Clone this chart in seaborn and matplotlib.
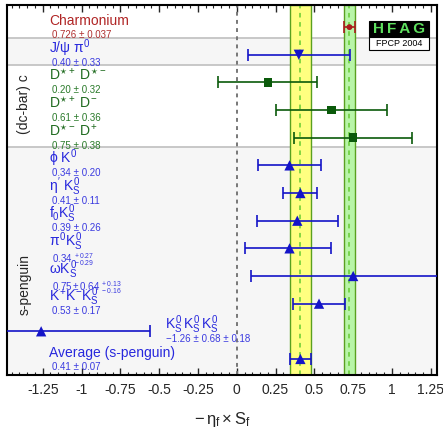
import matplotlib
matplotlib.use("Agg")
import matplotlib.pyplot as plt
import seaborn as sns
import pandas as pd
import numpy as np
from matplotlib.ticker import MultipleLocator
from matplotlib.patches import Rectangle

# ---------------- data ----------------
names = [r"Charmonium", r"$J/\psi\ \pi^0$", r"$D^{\star+}\ D^{\star-}$", r"$D^{\star+}\ D^{-}$",
         r"$D^{\star-}\ D^{+}$", r"$\phi\ K^0$", r"$\eta^{\prime}\ K^0_S$", r"$f_0 K^0_S$",
         r"$\pi^0 K^0_S$", r"$\omega K^0_S$", r"$K^{+}K^{-}K^0_S$", r"$K^0_S\,K^0_S\,K^0_S$",
         r"Average (s-penguin)"]
value_text = ["0.726 ± 0.037", "0.40 ± 0.33", "0.20 ± 0.32", "0.61 ± 0.36", "0.75 ± 0.38",
              "0.34 ± 0.20", "0.41 ± 0.11", "0.39 ± 0.26", r"$0.34^{\ +0.27}_{\ -0.29}$",
              r"$0.75 \pm 0.64^{\ +0.13}_{\ -0.16}$", "0.53 ± 0.17", "−1.26 ± 0.68 ± 0.18",
              "0.41 ± 0.07"]
kinds = ["charmonium", "jpsi", "dd", "dd", "dd", "peng", "peng", "peng", "peng", "peng",
         "peng", "peng", "peng"]
values = [0.726, 0.40, 0.20, 0.61, 0.75, 0.34, 0.41, 0.39, 0.34, 0.75, 0.53, -1.26, 0.41]
err_lo = [0.037, 0.33, 0.32, 0.36, 0.38, 0.20, 0.11, 0.26, 0.29, 0.66, 0.17, 0.70, 0.07]
err_hi = [0.037, 0.33, 0.32, 0.36, 0.38, 0.20, 0.11, 0.26, 0.27, 0.66, 0.17, 0.70, 0.07]
avg_peng, avg_peng_err = 0.41, 0.07
charm, charm_err = 0.726, 0.037
xticks = [-1.25, -1, -0.75, -0.5, -0.25, 0, 0.25, 0.5, 0.75, 1, 1.25]
xtick_labels = ["-1.25", "-1", "-0.75", "-0.5", "-0.25", "0", "0.25", "0.5", "0.75", "1", "1.25"]

rows = list(range(len(names)))
df = pd.DataFrame({"name": names, "value": values, "lo": err_lo, "hi": err_hi,
                   "kind": kinds, "row": rows})

# ---------------- style ----------------
sns.set_style("white")
plt.rcParams["font.family"] = ["Liberation Sans", "DejaVu Sans"]
plt.rcParams["mathtext.fontset"] = "custom"
plt.rcParams["mathtext.rm"] = "Liberation Sans"
plt.rcParams["mathtext.it"] = "Liberation Sans"
plt.rcParams["mathtext.bf"] = "Liberation Sans:bold"
plt.rcParams["mathtext.sf"] = "Liberation Sans"
plt.rcParams["axes.unicode_minus"] = False

colors = {"charmonium": "#aa1c1c", "jpsi": "#1414c8", "dd": "#0b5a0b", "peng": "#1414c8"}
name_colors = {"charmonium": "#b02525", "jpsi": "#2828dd", "dd": "#1f6b1f", "peng": "#2828dd"}
val_colors = {"charmonium": "#b03030", "jpsi": "#3a3ae0", "dd": "#2a7a2a", "peng": "#3a3ae0"}
markers = {"charmonium": "o", "jpsi": "v", "dd": "s", "peng": "^"}
sizes = {"charmonium": 18, "jpsi": 55, "dd": 38, "peng": 55}

fig = plt.figure(figsize=(4.43, 4.30), dpi=100)
ax = fig.add_axes([7 / 443, 1 - 375 / 430, 430 / 443, 370 / 430])

xmin, xmax = -1.48, 1.29
ax.set_xlim(xmin, xmax)
ax.set_ylim(12.58, -0.8)

# background bands for groups
ax.axhspan(0.38, 1.38, color="#f6f6f6", zorder=0, lw=0)
ax.axhspan(4.35, 12.58, color="#f6f6f6", zorder=0, lw=0)
for yy in [0.38, 1.38, 4.35]:
    ax.axhline(yy, color="#c4c4c4", lw=1.3, zorder=0.5)

# average bands
ax.axvspan(avg_peng - avg_peng_err, avg_peng + avg_peng_err, facecolor="#ffff80",
           edgecolor="#5aa020", lw=1.0, zorder=1)
ax.axvspan(charm - charm_err, charm + charm_err, facecolor="#b8f5a8",
           edgecolor="#5aa020", lw=1.0, zorder=1)
ax.axvline(avg_peng, color="#66cc33", lw=1.1, ls=(0, (3, 3)), zorder=1.5)
ax.axvline(charm, color="#66cc33", lw=1.1, ls=(0, (3, 3)), zorder=1.5)
ax.axvline(0, color="#777777", lw=1.4, ls=(0, (2, 2.2)), zorder=1.5)

# error bars
for _, r in df.iterrows():
    ax.errorbar(r["value"], r["row"], xerr=[[r["lo"]], [r["hi"]]], fmt="none",
                ecolor=colors[r["kind"]], elinewidth=1.2, capsize=4, capthick=1.2, zorder=3)

# markers via seaborn
sns.scatterplot(data=df, x="value", y="row", hue="kind", style="kind", size="kind",
                palette=colors, markers=markers, sizes=sizes, linewidth=0,
                legend=False, ax=ax, zorder=4)

# labels
for _, r in df.iterrows():
    k = r["kind"]
    i = r["row"]
    if i == 11:
        xn, xv = -0.465, -0.455
    else:
        xn, xv = -1.21, -1.19
    ax.text(xn, i - 0.08, r["name"], color=name_colors[k], fontsize=10, ha="left",
            va="baseline", zorder=5)
    ax.text(xv, i + 0.1, value_text[i], color=val_colors[k], fontsize=7, ha="left",
            va="top", zorder=5)

ax.text(-1.368, 2.78, "(dc-bar) c", rotation=90, fontsize=10, ha="center", va="center")
ax.text(-1.368, 9.32, "s-penguin", rotation=90, fontsize=10, ha="center", va="center")

# HFAG logo
x0, x1 = 0.842, 0.981
ax.add_patch(Rectangle((x0, 0.9135), x1 - x0, 0.957 - 0.9135, transform=ax.transAxes,
                       facecolor="black", edgecolor="black", lw=0.8, zorder=6))
ax.add_patch(Rectangle((x0, 0.878), x1 - x0, 0.9135 - 0.878, transform=ax.transAxes,
                       facecolor="white", edgecolor="black", lw=0.8, zorder=6))
ax.text((x0 + x1) / 2, 0.935, "H\u2009F\u2009A\u2009G", transform=ax.transAxes,
        ha="center", va="center", fontsize=11, fontweight="bold", color="#5ee05e", zorder=7)
ax.text((x0 + x1) / 2, 0.896, "FPCP 2004", transform=ax.transAxes, ha="center", va="center",
        fontsize=6.5, color="black", zorder=7)

# axes
ax.set_xticks(xticks)
ax.set_xticklabels(xtick_labels, fontsize=10)
ax.xaxis.set_minor_locator(MultipleLocator(0.05))
ax.set_yticks([])
ax.set_ylabel("")
ax.tick_params(axis="x", which="both", direction="in", top=True, bottom=True)
ax.tick_params(axis="x", which="major", length=5, width=1.0, pad=6)
ax.tick_params(axis="x", which="minor", length=2.5, width=0.8)
for sp in ax.spines.values():
    sp.set_visible(True)
    sp.set_color("black")
    sp.set_linewidth(1.5)
ax.set_xlabel(r"$-\,\eta_{\rm f} \times {\rm S_f}$", fontsize=12, labelpad=9)

fig.savefig("out.png", dpi=100)
